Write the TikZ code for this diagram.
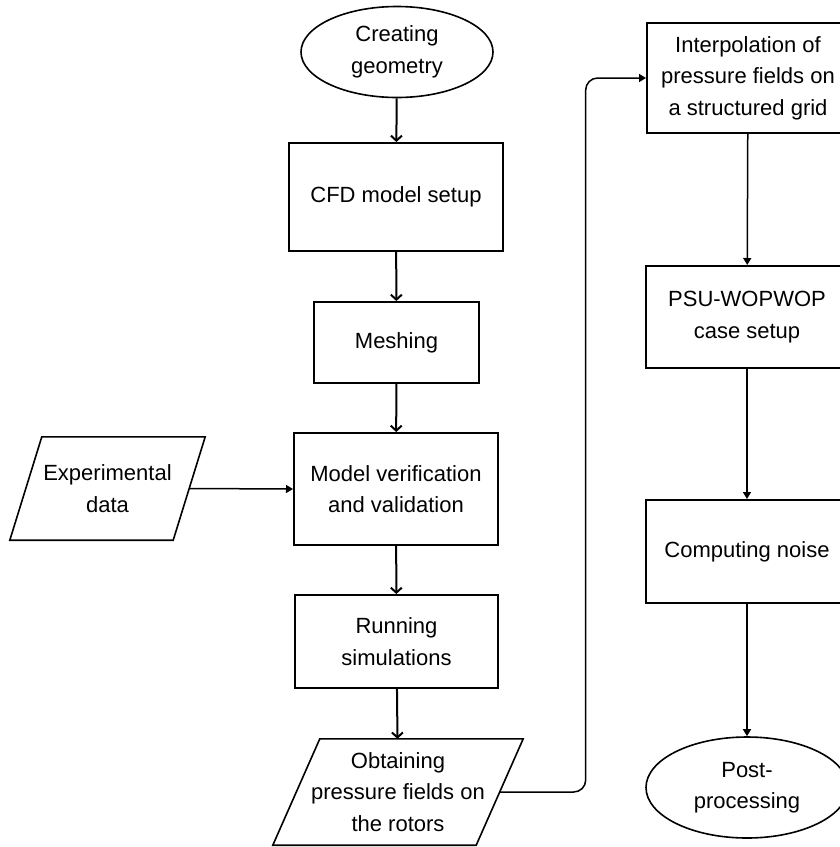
\documentclass[tikz,border=0pt]{standalone}
\usepackage{fontspec}
\setmainfont{Liberation Sans}
\usetikzlibrary{shapes.geometric,arrows.meta}

\begin{document}
\begin{tikzpicture}[x=1pt,y=-1pt,
    font=\fontsize{22}{31.5}\selectfont,
    box/.style={rectangle, draw, line width=2pt, align=center, inner sep=0pt},
    term/.style={ellipse, draw, line width=1.6pt, align=center, inner sep=0pt},
    io/.style={rectangle, align=center, inner sep=0pt},
    flow/.style={line width=2pt, -{Straight Barb[length=5pt,width=11pt,line width=2pt]}},
    link/.style={line width=1.5pt, -{Triangle[length=7pt,width=8pt]}}]
    \useasboundingbox (0,0) rectangle (840,847);
    \clip (0,0) rectangle (840,847);
    % left column
    \node [term, minimum width=192pt, minimum height=91pt] (geo) at (397,52) {Creating\\geometry};
    \node [box, minimum width=214pt, minimum height=108pt] (cfd) at (396,197) {CFD model setup};
    \node [box, minimum width=165pt, minimum height=81pt] (mesh) at (396.5,342.5) {Meshing};
    \node [box, minimum width=204pt, minimum height=112pt] (valid) at (396,489) {Model verification\\and validation};
    \node [box, minimum width=203pt, minimum height=93pt] (run) at (396.5,641.5) {Running\\simulations};
    \node [io, minimum width=203pt, minimum height=106pt] (obt) at (398,792) {Obtaining\\pressure fields on\\the rotors};
    \node [io, minimum width=163pt, minimum height=103pt] (exp) at (107.5,488.5) {Experimental\\data};
    % slanted outlines of the data nodes
    \draw [line width=1.6pt] ([xshift=-23.5pt]obt.south west) -- ([xshift=23.5pt]obt.north west)
        -- ([xshift=23.5pt]obt.north east) -- ([xshift=-23.5pt]obt.south east) -- cycle;
    \draw [line width=1.6pt] ([xshift=-16pt]exp.south west) -- ([xshift=16pt]exp.north west)
        -- ([xshift=16pt]exp.north east) -- ([xshift=-16pt]exp.south east) -- cycle;
    % right column
    \node [box, minimum width=202pt, minimum height=110pt] (interp) at (748,78) {Interpolation of\\pressure fields on\\a structured grid};
    \node [box, minimum width=202pt, minimum height=102pt] (psu) at (747,317) {PSU-WOPWOP\\case setup};
    \node [box, minimum width=202pt, minimum height=103pt] (noise) at (747,551.5) {Computing noise};
    \node [term, minimum width=202pt, minimum height=101pt] (post) at (747,787.5) {Post-\\processing};

    \draw [flow] (geo) -- (cfd);
    \draw [flow] (cfd) -- (mesh);
    \draw [flow] (mesh) -- (valid);
    \draw [flow] (valid) -- (run);
    \draw [flow] (run) -- (obt);
    \draw [link] (exp.east) -- (valid.west);
    \draw [link, rounded corners=12pt] (obt.east) -- ++(86,0) |- (interp.west);
    \draw [link] (interp) -- (psu);
    \draw [link] (psu) -- (noise);
    \draw [link] (noise) -- (post);
\end{tikzpicture}
\end{document}
